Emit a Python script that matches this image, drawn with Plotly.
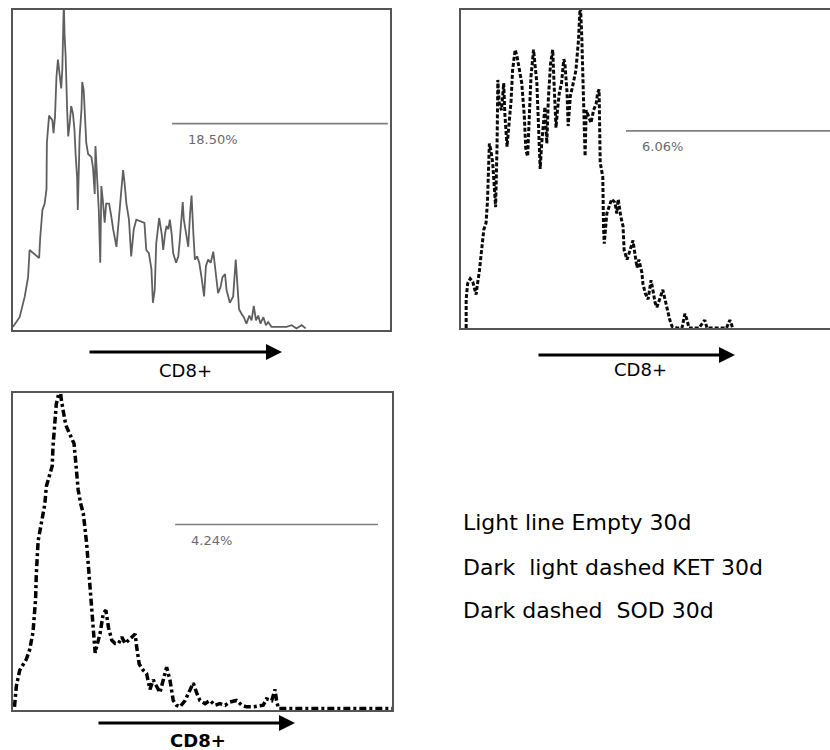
import plotly.graph_objects as go

# ---------------- data ----------------
# Panel 1: Empty 30d (light solid line); channel 0-1024, counts (top of box = 200)
p1_channel = [0, 18, 32, 41, 45, 68, 71, 74, 80, 86, 91, 92, 98, 107, 110, 114, 118, 122, 127, 131,
              134, 136, 138, 140, 143, 147, 150, 154, 158, 163, 167, 170, 174, 176, 181, 186, 188, 192,
              195, 199, 204, 213, 217, 222, 224, 228, 233, 237, 240, 244, 249, 253, 261, 267, 272, 281,
              288, 294, 299, 303, 308, 315, 321, 328, 335, 357, 362, 369, 376, 380, 385, 389, 397, 404,
              408, 413, 417, 422, 426, 431, 435, 443, 449, 453, 458, 461, 464, 470, 476, 481, 485, 490,
              494, 500, 506, 512, 519, 524, 530, 537, 544, 551, 557, 564, 569, 576, 580, 589, 598, 605,
              609, 614, 621, 627, 634, 642, 648, 654, 660, 666, 672, 680, 687, 693, 702, 716, 729, 743,
              757, 770, 784, 795]
p1_count = [2, 8, 21, 33, 50, 46, 45, 58, 75, 79, 88, 117, 134, 131, 123, 133, 158, 169, 160, 151,
            163, 188, 205, 185, 171, 138, 121, 129, 140, 135, 125, 110, 96, 75, 121, 138, 155, 150,
            138, 117, 110, 108, 102, 85, 115, 100, 75, 42, 90, 81, 67, 79, 79, 71, 63, 52,
            71, 88, 100, 92, 79, 69, 46, 63, 69, 67, 50, 48, 38, 17, 25, 54, 70, 60,
            50, 60, 65, 63, 69, 60, 48, 42, 46, 56, 71, 80, 69, 60, 52, 73, 84, 60,
            44, 46, 42, 33, 21, 40, 44, 42, 49, 35, 23, 27, 33, 35, 25, 17, 21, 44,
            27, 13, 10, 8, 4, 9, 6, 15, 6, 9, 4, 8, 3, 5, 2, 2, 2, 2,
            3, 1, 3, 1]

# Panel 2: KET 30d (dark light-dashed line)
p2_channel = [14, 14, 18, 25, 32, 41, 45, 50, 56, 62, 68, 72, 77, 81, 86, 90, 94, 98, 100, 104,
              110, 116, 119, 125, 131, 136, 140, 147, 152, 158, 165, 172, 176, 181, 186, 190, 197,
              201, 206, 210, 215, 219, 224, 228, 233, 237, 243, 249, 253, 258, 262, 267, 273, 279,
              282, 288, 291, 297, 303, 308, 312, 319, 324, 328, 331, 335, 337, 340, 346, 353, 360,
              367, 371, 375, 378, 385, 387, 389, 396, 409, 418, 423, 427, 434, 440, 443, 451, 459,
              467, 472, 478, 483, 491, 494, 500, 508, 516, 521, 527, 532, 540, 548, 554, 559, 562,
              567, 573, 586, 600, 608, 614, 619, 646, 662, 668, 721, 730, 738]
p2_count = [0, 18, 28, 31, 29, 21, 28, 36, 49, 62, 66, 80, 116, 112, 104, 91, 76, 116, 156, 141,
            137, 154, 135, 114, 131, 143, 162, 175, 171, 162, 154, 133, 112, 108, 133, 158, 175,
            167, 154, 130, 100, 116, 130, 139, 116, 143, 166, 175, 152, 126, 137, 148, 154, 169,
            167, 148, 127, 146, 152, 158, 162, 181, 205, 183, 158, 137, 108, 137, 133, 129, 137,
            141, 148, 150, 104, 95, 64, 53, 72, 81, 79, 72, 81, 70, 64, 49, 43, 49,
            55, 47, 38, 43, 35, 28, 22, 18, 30, 24, 16, 13, 18, 24, 18, 13, 9,
            5, 1, 0, 0, 9, 5, 0, 0, 5, 0, 0, 5, 0]

# Panel 3: SOD 30d (dark dashed line)
p3_channel = [4, 9, 18, 27, 36, 45, 50, 54, 58, 61, 63, 65, 68, 72, 77, 81, 86, 90, 95, 99, 106, 108,
              113, 117, 122, 126, 131, 135, 140, 144, 150, 158, 165, 170, 176, 183, 190, 199, 203,
              208, 212, 217, 222, 226, 235, 244, 251, 258, 267, 276, 285, 294, 303, 312, 321, 330,
              334, 341, 352, 361, 370, 379, 388, 397, 406, 415, 424, 433, 442, 451, 465, 478, 487,
              496, 505, 519, 532, 546, 559, 573, 586, 604, 618, 631, 649, 676, 685, 699, 708, 712,
              717, 1024]
p3_count = [2, 15, 25, 29, 32, 38, 44, 49, 61, 70, 86, 99, 107, 112, 118, 124, 130, 141, 145, 149, 154, 166,
            179, 193, 198, 205, 195, 188, 183, 179, 176, 172, 168, 155, 139, 130, 124, 105, 92,
            78, 61, 45, 36, 40, 48, 61, 63, 52, 44, 42, 42, 46, 42, 44, 46, 48,
            40, 29, 25, 23, 13, 19, 15, 11, 19, 27, 19, 6, 3, 2, 6, 13, 17,
            11, 6, 4, 6, 3, 4, 3, 5, 6, 3, 2, 2, 3, 7, 6, 13, 6,
            1, 1]

# Gates (marker bars) and their percentages
gate_start = [432, 448, 438]
gate_end = [1018, 1024, 986]
gate_level = [129, 124, 117]
gate_labels = ["18.50%", "6.06%", "4.24%"]

axis_title = "CD8+"
legend_lines = ["Light line Empty 30d",
                "Dark\u00a0 light dashed KET 30d",
                "Dark dashed\u00a0 SOD 30d"]

# ---------------- figure ----------------
W, H = 830, 750
fig = go.Figure()

fig.add_trace(go.Scatter(x=p1_channel, y=p1_count, mode="lines",
                         line=dict(color="#5f5f5f", width=1.8), xaxis="x", yaxis="y"))
fig.add_trace(go.Scatter(x=p2_channel, y=p2_count, mode="lines",
                         line=dict(color="#0a0a0a", width=3.0, dash="4px,2px"), xaxis="x2", yaxis="y2"))
fig.add_trace(go.Scatter(x=p3_channel, y=p3_count, mode="lines",
                         line=dict(color="#000000", width=3.5, dash="7px,3px,3px,3px"), xaxis="x3", yaxis="y3"))

axes = [("x", "y"), ("x2", "y2"), ("x3", "y3")]
for i, (xa, ya) in enumerate(axes):
    fig.add_trace(go.Scatter(x=[gate_start[i], gate_end[i]], y=[gate_level[i], gate_level[i]],
                             mode="lines", line=dict(color="#808080", width=1.6),
                             xaxis=xa, yaxis=ya))
    fig.add_annotation(x=gate_start[i] + 38, y=gate_level[i] - 4, xref=xa, yref=ya,
                       text=gate_labels[i], showarrow=False, xanchor="left", yanchor="top",
                       font=dict(family="DejaVu Sans", size=13, color="#6a6a6a"))

def px(x):
    return x / W

def py(y):
    return 1 - y / H

common = dict(showgrid=False, zeroline=False, showticklabels=False, ticks="",
              showline=True, linecolor="#555555", linewidth=1.6)

fig.update_layout(
    width=W, height=H, margin=dict(l=0, r=0, t=0, b=0),
    paper_bgcolor="white", plot_bgcolor="white", showlegend=False,
    xaxis=dict(domain=[px(13), px(390)], range=[0, 1024], mirror=True, anchor="y", **common),
    yaxis=dict(domain=[py(330), py(10)], range=[0, 200], mirror=True, anchor="x", **common),
    xaxis2=dict(domain=[px(461), 1.0], range=[0, 1002], mirror=True, anchor="y2", **common),
    yaxis2=dict(domain=[py(328), py(10)], range=[0, 200], mirror=False, anchor="x2", **common),
    xaxis3=dict(domain=[px(13), px(392)], range=[0, 1024], mirror=True, anchor="y3", **common),
    yaxis3=dict(domain=[py(710), py(393)], range=[0, 200], mirror=True, anchor="x3", **common),
)

# CD8+ arrows and labels
arrows = [(88, 282, 352, 185, 370, False), (537, 735, 355, 640, 369, False), (97, 295, 723, 198, 740, True)]
for x0, x1, yy, tx, ty, bold in arrows:
    fig.add_annotation(x=px(x1), y=py(yy), xref="paper", yref="paper", ax=-(x1 - x0), ay=0,
                       showarrow=True, arrowhead=2, arrowsize=1.0, arrowwidth=3.2, arrowcolor="black",
                       text="")
    fig.add_annotation(x=px(tx), y=py(ty), xref="paper", yref="paper", showarrow=False,
                       text=("<b>%s</b>" % axis_title) if bold else axis_title,
                       font=dict(family="DejaVu Sans", size=18, color="black"),
                       xanchor="center", yanchor="middle")

for i, (txt, yy) in enumerate(zip(legend_lines, [522, 567, 610])):
    fig.add_annotation(x=px(461), y=py(yy), xref="paper", yref="paper", showarrow=False,
                       text=txt, xanchor="left", yanchor="middle",
                       font=dict(family="DejaVu Sans", size=22, color="black"))

fig.write_html("out.html", config={"displayModeBar": False},
               post_script="document.body.style.margin='0px';document.body.style.overflow='hidden';")
